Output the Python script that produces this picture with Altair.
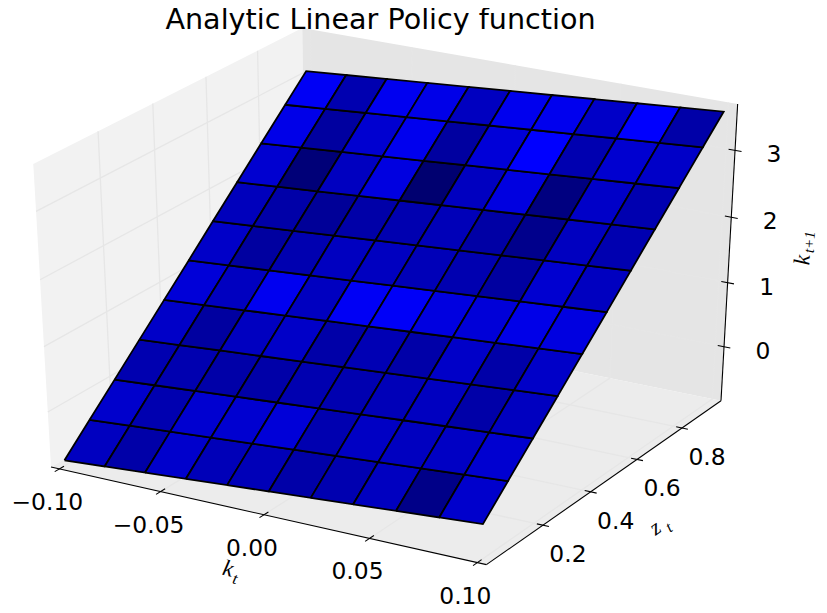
import math
import numpy as np
import pandas as pd
import altair as alt

TITLE = "Analytic Linear Policy function"
K_GRID = [-0.10, -0.08, -0.06, -0.04, -0.02, 0.0, 0.02, 0.04, 0.06, 0.08, 0.10]
Y_GRID = [-0.009, 0.089, 0.187, 0.285, 0.383, 0.481, 0.578, 0.676, 0.774, 0.872, 0.958]
Z_ROWS = [
    [-.775, -.73, -.685, -.64, -.595, -.55, -.505, -.46, -.415, -.37, -.325],
    [-.383, -.337, -.292, -.246, -.201, -.155, -.11, -.064, -.019, .027, .072],
    [.008, .054, .1, .146, .192, .238, .284, .33, .376, .422, .468],
    [.4, .446, .493, .539, .586, .632, .678, .725, .771, .818, .864],
    [.791, .838, .885, .931, .978, 1.025, 1.072, 1.119, 1.165, 1.212, 1.259],
    [1.182, 1.229, 1.277, 1.324, 1.371, 1.419, 1.466, 1.513, 1.56, 1.608, 1.655],
    [1.574, 1.622, 1.669, 1.717, 1.765, 1.813, 1.86, 1.908, 1.956, 2.003, 2.051],
    [1.965, 2.013, 2.061, 2.11, 2.158, 2.206, 2.254, 2.302, 2.351, 2.399, 2.447],
    [2.357, 2.406, 2.454, 2.503, 2.551, 2.6, 2.649, 2.697, 2.746, 2.794, 2.843],
    [2.748, 2.797, 2.846, 2.895, 2.944, 2.994, 3.043, 3.092, 3.141, 3.19, 3.239],
    [3.09, 3.14, 3.189, 3.239, 3.288, 3.338, 3.387, 3.437, 3.486, 3.536, 3.585],
]
BLUE_ROWS = [
    [0xc0, 0xa8, 0xcc, 0xb8, 0xb8, 0xa8, 0xb0, 0xc0, 0x88, 0xcc],
    [0xcc, 0xb0, 0xd0, 0xd0, 0xd8, 0xb0, 0xc4, 0xc0, 0xc4, 0xd0],
    [0xb0, 0xb0, 0xa8, 0xa8, 0xb0, 0xb0, 0xb8, 0xc0, 0xa8, 0xc0],
    [0xc8, 0xa0, 0xc0, 0xc8, 0xa8, 0xb4, 0xa8, 0xc8, 0xa8, 0xc8],
    [0xd8, 0xc0, 0xf0, 0xc0, 0xf5, 0xf8, 0xe0, 0xd8, 0xe8, 0xe0],
    [0xc8, 0xa0, 0xb0, 0xc0, 0xc0, 0xb8, 0xb0, 0xa0, 0xd0, 0xc0],
    [0xbc, 0xa8, 0x98, 0xa8, 0xb0, 0xb8, 0xa5, 0x8c, 0xc0, 0xb0],
    [0xd0, 0x78, 0xc0, 0xe0, 0x70, 0xc0, 0xe0, 0x80, 0xc8, 0xb0],
    [0xe8, 0xa0, 0xd0, 0xee, 0xa0, 0xd8, 0xff, 0xb0, 0xd0, 0xc8],
    [0xf5, 0xb0, 0xf0, 0xe8, 0xc0, 0xee, 0xee, 0xc8, 0xff, 0xa8],
]
X_TICKS = [-0.10, -0.05, 0.00, 0.05, 0.10]
X_LABELS = ["\u22120.10", "\u22120.05", "0.00", "0.05", "0.10"]
Y_TICKS = [0.2, 0.4, 0.6, 0.8]
Y_LABELS = ["0.2", "0.4", "0.6", "0.8"]
Z_TICKS = [0, 1, 2, 3]
Z_LABELS = ["0", "1", "2", "3"]
X_LIM = (-0.10417, 0.10417)
Y_LIM = (-0.029, 0.978)
Z_LIM = (-0.86, 3.68)

PANE_LEFT, PANE_BACK, PANE_FLOOR, GRID = "#f2f2f2", "#e5e5e5", "#ececec", "#e6e6e6"
U = np.array([0.8660254, 0.5, 0.0])
V = np.array([-0.25, 0.4330127, 0.8660254])
N = np.array([0.4330127, -0.75, 0.5])


def proj(x, y, z):
    d = np.array([
        (x - X_LIM[0]) / (X_LIM[1] - X_LIM[0]) - 0.5,
        (y - Y_LIM[0]) / (Y_LIM[1] - Y_LIM[0]) - 0.5,
        (z - Z_LIM[0]) / (Z_LIM[1] - Z_LIM[0]) - 0.5,
    ])
    w = 10 - N @ d
    return float(U @ d / w), float(V @ d / w)


def path_rows(gid, pts, **extra):
    rows = []
    for i, p in enumerate(pts):
        a, b = proj(*p)
        rows.append({"g": gid, "o": i, "px": a, "py": b, **extra})
    return rows


x0, x1 = X_LIM
y0, y1 = Y_LIM
z0, z1 = Z_LIM

panes = []
panes += path_rows("left", [(x0, y0, z0), (x0, y0, z1), (x0, y1, z1), (x0, y1, z0), (x0, y0, z0)], c=PANE_LEFT)
panes += path_rows("back", [(x0, y1, z0), (x0, y1, z1), (x1, y1, z1), (x1, y1, z0), (x0, y1, z0)], c=PANE_BACK)
panes += path_rows("floor", [(x0, y0, z0), (x1, y0, z0), (x1, y1, z0), (x0, y1, z0), (x0, y0, z0)], c=PANE_FLOOR)

grid = []
for t in X_TICKS:
    grid += path_rows(f"gx{t}", [(t, y0, z0), (t, y1, z0), (t, y1, z1)])
for t in Y_TICKS:
    grid += path_rows(f"gy{t}", [(x1, t, z0), (x0, t, z0), (x0, t, z1)])
for t in Z_TICKS:
    grid += path_rows(f"gz{t}", [(x0, y0, t), (x0, y1, t), (x1, y1, t)])

axes = []
axes += path_rows("ax", [(x0, y0, z0), (x1, y0, z0)])
axes += path_rows("ay", [(x1, y0, z0), (x1, y1, z0)])
axes += path_rows("az", [(x1, y1, z0), (x1, y1, z1)])
for t in X_TICKS:
    axes += path_rows(f"tx{t}", [(t, y0 - 0.017, z0), (t, y0 + 0.017, z0)])
for t in Y_TICKS:
    axes += path_rows(f"ty{t}", [(x1 - 0.0028, t, z0), (x1 + 0.0028, t, z0)])
for t in Z_TICKS:
    axes += path_rows(f"tz{t}", [(x1 - 0.003, y1, t), (x1 + 0.003, y1, t)])

cells = []
for j in range(10):
    for i in range(10):
        pts = [
            (K_GRID[i], Y_GRID[j], Z_ROWS[j][i]),
            (K_GRID[i + 1], Y_GRID[j], Z_ROWS[j][i + 1]),
            (K_GRID[i + 1], Y_GRID[j + 1], Z_ROWS[j + 1][i + 1]),
            (K_GRID[i], Y_GRID[j + 1], Z_ROWS[j + 1][i]),
            (K_GRID[i], Y_GRID[j], Z_ROWS[j][i]),
        ]
        cells += path_rows(f"c{j}_{i}", pts, c=f"#0000{BLUE_ROWS[j][i]:02x}")


def label_rows(ticks, labels, fn):
    rows = []
    for t, s in zip(ticks, labels):
        a, b = proj(*fn(t))
        rows.append({"px": a, "py": b, "s": s})
    return rows


xs = alt.X("px:Q", scale=alt.Scale(domain=[-0.07624, 0.08512], nice=False, zero=False), axis=None)
ys = alt.Y("py:Q", scale=alt.Scale(domain=[-0.09185, 0.07896], nice=False, zero=False), axis=None)


def lines(rows, color, width):
    return alt.Chart(pd.DataFrame(rows)).mark_line(color=color, strokeWidth=width, strokeCap="butt").encode(
        x=xs, y=ys, detail="g:N", order="o:Q")


def polys(rows, stroke, width):
    mark = alt.Chart(pd.DataFrame(rows)).mark_line(strokeWidth=width, stroke=stroke, strokeJoin="miter")
    return mark.encode(x=xs, y=ys, detail="g:N", order="o:Q", fill=alt.Fill("c:N", scale=None, legend=None))


def texts(rows, size, dx=0, dy=0, font="DejaVu Sans", style="normal", angle=0):
    # Vega turns dx and dy with the text, so undo the angle to keep them as screen offsets.
    r = math.radians(angle)
    tx = dx * math.cos(r) + dy * math.sin(r)
    ty = -dx * math.sin(r) + dy * math.cos(r)
    return alt.Chart(pd.DataFrame(rows)).mark_text(
        fontSize=size, font=font, fontStyle=style, color="black", dx=tx, dy=ty, angle=angle,
        align="center", baseline="middle").encode(x=xs, y=ys, text="s:N")


SERIF = "Liberation Serif"
title_mark = alt.Chart(pd.DataFrame({"s": [TITLE]})).mark_text(
    fontSize=28.6, font="DejaVu Sans", color="black", align="center", baseline="alphabetic",
).encode(x=alt.value(372.5), y=alt.value(15), text="s:N")

layers = [
    polys(panes, "transparent", 0),
    lines(grid, GRID, 1.3),
    lines(axes, "black", 1.1),
    polys(cells, "black", 1.8),
    texts(label_rows(X_TICKS, X_LABELS, lambda t: (t, y0, z0)), 23.4, dx=-12, dy=34),
    texts(label_rows(Y_TICKS, Y_LABELS, lambda t: (x1, t, z0)), 23.4, dx=25, dy=30),
    texts(label_rows(Z_TICKS, Z_LABELS, lambda t: (x1, y1, t)), 23.4, dx=39, dy=5),
    texts(label_rows([0.0], ["k"], lambda t: (t, y0, z0)), 23, dx=-36, dy=54, font=SERIF, style="italic", angle=13),
    texts(label_rows([0.0], ["t"], lambda t: (t, y0, z0)), 16, dx=-29, dy=64, font=SERIF, style="italic", angle=13),
    texts(label_rows([0.5], ["z"], lambda t: (x1, t, z0)), 22, dx=41, dy=52, font=SERIF, style="italic", angle=325),
    texts(label_rows([0.5], ["t"], lambda t: (x1, t, z0)), 16, dx=55, dy=52, font=SERIF, style="italic", angle=325),
    texts(label_rows([1.5], ["k"], lambda t: (x1, y1, t)), 23, dx=73, dy=10, font=SERIF, style="italic", angle=273),
    texts(label_rows([1.5], ["t+1"], lambda t: (x1, y1, t)), 15, dx=80, dy=-8, font=SERIF, style="italic", angle=273),
    title_mark,
]

chart = alt.layer(*layers).properties(
    width=811, height=591, padding={"top": 6, "left": 0, "right": 0, "bottom": 0},
    autosize=alt.AutoSizeParams(type="none"),
).configure_view(stroke=None)

chart.save("out.html", embed_options={"renderer": "svg", "actions": False})
